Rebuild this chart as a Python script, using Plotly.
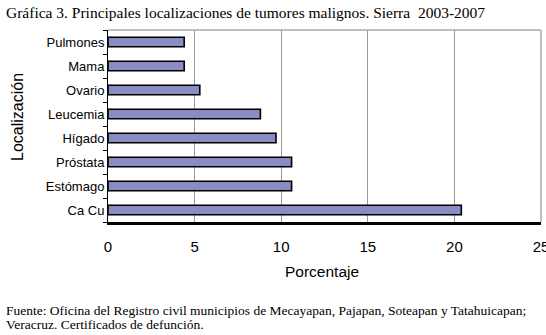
import plotly.graph_objects as go

categories = ["Pulmones", "Mama", "Ovario", "Leucemia", "Hígado", "Próstata", "Estómago", "Ca Cu"]
values = [4.4, 4.4, 5.3, 8.8, 9.7, 10.6, 10.6, 20.4]
x_ticks = [0, 5, 10, 15, 20, 25]

W, H = 546, 335
L, R, T, B = 108, 5, 30, 113
PW, PH = W - L - R, H - T - B

def px_x(x):
    return (x - L) / PW

def px_y(y):
    return (H - B - y) / PH

serif = "Liberation Serif, Times New Roman, serif"
sans = "Liberation Sans, Arial, sans-serif"

fig = go.Figure()
fig.add_trace(go.Bar(
    y=categories, x=values, orientation="h",
    marker=dict(color="#8a8cc4", line=dict(color="black", width=1.6)),
    width=0.4,
))

fig.update_layout(
    width=W, height=H,
    margin=dict(l=L, r=R, t=T, b=B, autoexpand=False),
    paper_bgcolor="white", plot_bgcolor="white",
    showlegend=False,
    font=dict(family=sans, color="black"),
    xaxis=dict(
        range=[0, 25.001], tickvals=x_ticks, ticktext=[str(v) for v in x_ticks],
        showgrid=True, gridcolor="#999999", gridwidth=1,
        showline=True, linecolor="black", linewidth=2.5,
        ticks="", tickfont=dict(size=15), zeroline=False, automargin=False,
        ticklabeloverflow="allow", ticklabelstandoff=9,
    ),
    yaxis=dict(
        categoryorder="array", categoryarray=categories[::-1],
        showgrid=False, showline=True, linecolor="black", linewidth=1,
        ticks="outside", ticklen=4, tickcolor="black", tickson="boundaries",
        tickfont=dict(size=13), automargin=False,
    ),
    shapes=[
        dict(type="line", xref="paper", yref="paper", x0=0, x1=1, y0=1, y1=1,
             line=dict(color="#aaaaaa", width=1.5)),
        dict(type="line", xref="paper", yref="paper", x0=1, x1=1, y0=0, y1=1,
             line=dict(color="#aaaaaa", width=1.5)),
    ],
    annotations=[
        dict(text="Gráfica 3. Principales localizaciones de tumores malignos. Sierra  2003-2007",
             xref="paper", yref="paper", x=px_x(4), y=px_y(12), xanchor="left", yanchor="middle",
             showarrow=False, font=dict(family=serif, size=15.5)),
        dict(text="Fuente: Oficina del Registro civil municipios de Mecayapan, Pajapan, Soteapan y Tatahuicapan;",
             xref="paper", yref="paper", x=px_x(4), y=px_y(310), xanchor="left", yanchor="middle",
             showarrow=False, font=dict(family=serif, size=13.5)),
        dict(text="Veracruz. Certificados de defunción.",
             xref="paper", yref="paper", x=px_x(4), y=px_y(324), xanchor="left", yanchor="middle",
             showarrow=False, font=dict(family=serif, size=13.5)),
        dict(text="Porcentaje", xref="paper", yref="paper", x=px_x(322), y=px_y(271.5),
             xanchor="center", yanchor="middle", showarrow=False, font=dict(family=sans, size=15.5)),
        dict(text="Localización", xref="paper", yref="paper", x=px_x(17.5), y=px_y(117.5),
             xanchor="center", yanchor="middle", textangle=-90, showarrow=False,
             font=dict(family=sans, size=16)),
    ],
)

fig.write_html("out.html", config={"displayModeBar": False},
               post_script="document.body.style.margin='0';document.body.style.overflow='hidden';")
